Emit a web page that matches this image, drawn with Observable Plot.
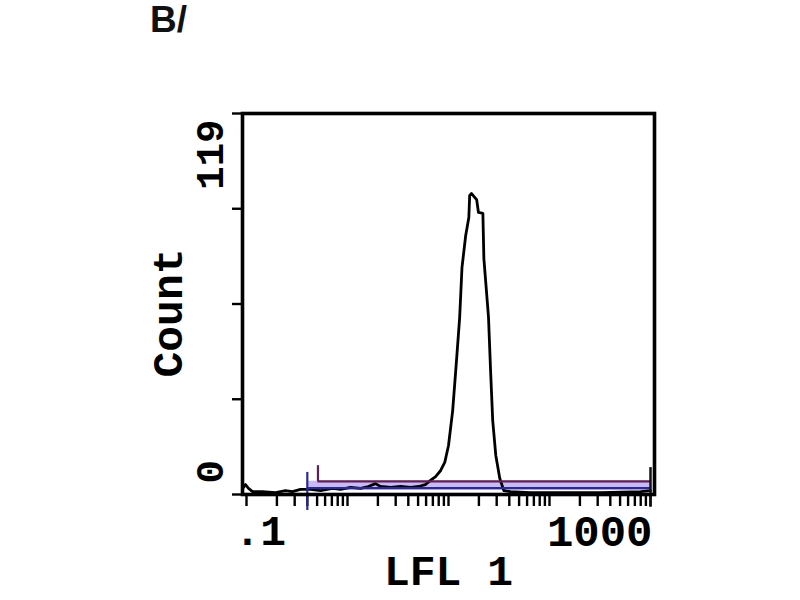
<!DOCTYPE html>
<html>
<head>
<meta charset="utf-8">
<script src="https://cdn.jsdelivr.net/npm/d3@7"></script>
<script src="https://cdn.jsdelivr.net/npm/@observablehq/plot@0.6"></script>
<style>
  html, body { margin: 0; padding: 0; background: #fff; }
  body { width: 800px; height: 600px; overflow: hidden; position: relative; }
  #title { position: absolute; left: 150px; top: 0px; font: bold 37px/40px "Liberation Sans", Arial, sans-serif; color: #111; }
  #chart { position: absolute; left: 0; top: 0; }
  [aria-label^="x-axis"] line, [aria-label^="x-axis"] path,
  [aria-label^="y-axis"] line, [aria-label^="y-axis"] path { stroke-width: 2.4px; }
</style>
</head>
<body>
<div id="chart"></div>
<div id="title">B/</div>
<script>
// Histogram (LFL 1 fluorescence channel vs. event count)
const fluorescence = [0.0934, 0.0977, 0.1047, 0.1147, 0.144, 0.194, 0.243, 0.285, 0.342, 0.43, 0.541, 0.71, 0.855, 1.07, 1.35, 1.61, 1.89, 2.12, 2.67, 3.36, 4.22, 5.08, 5.9,
  6.63, 7.45, 8.37, 9.18, 10.0, 11.0, 12.0, 12.9, 13.6, 14.8, 15.9, 16.2, 16.9, 19.0, 19.8, 21.9, 22.4, 24.9, 26.1, 27.4, 29.4, 32.2, 35.3,
  41.1, 64.9, 129, 320, 798, 1000];
const counts = [2.2, 3.1, 1.9, 0.9, 0.9, 0.6, 1.2, 0.9, 1.6, 1.6, 1.2, 1.9, 1.6, 2.2, 1.9, 2.5, 3.4, 2.5, 2.2, 2.5, 2.2, 2.5, 3.1,
  4.4, 5.6, 7.5, 10, 15.3, 26.2, 41.8, 55.3, 70.9, 80.9, 86.5, 93.4, 94.0, 92.1, 88.1, 87.8, 73.7, 55.3, 38.7, 23.1, 12.2, 5.0, 1.2,
  0.9, 0.6, 0.6, 0.6, 0.9, 1.2];

// Marker (gate) bars
const markerNames = ["M1", "M2"];
const markerStart = [0.51, 0.40];
const markerEnd = [1000, 1000];
const markerLevel = [4.1, 2.0];
const markerTickTop = [9.0, 6.9];
const markerTickBottom = [4.0, -5.0];
const markerColors = ["#5e1f55", "#2a2a92"];

// Axes
const xTicks = [0.1, 0.2, 0.3, 0.4, 0.5, 0.6, 0.7, 0.8, 0.9,
  1, 2, 3, 4, 5, 6, 7, 8, 9,
  10, 20, 30, 40, 50, 60, 70, 80, 90,
  100, 200, 300, 400, 500, 600, 700, 800, 900, 1000];
const yTicks = [0, 29.75, 59.5, 89.25, 119];
const xTickLabelValues = [0.1, 1000];
const xTickLabels = [".1", "1000"];
const yTickLabelValues = [0, 119];
const yTickLabels = ["0", "119"];
const xAxisTitle = "LFL 1";
const yAxisTitle = "Count";

const mono = "'Liberation Mono', 'DejaVu Sans Mono', monospace";
const idx = markerNames.map((_, i) => i);

const chart = Plot.plot({
  width: 800,
  height: 600,
  marginLeft: 242,
  marginRight: 146,
  marginTop: 113,
  marginBottom: 106,
  style: { background: "transparent", color: "black", fontFamily: mono },
  x: { type: "log", domain: [0.1, 1000], insetLeft: 4, insetRight: 4, ticks: xTicks, tickSize: 12, tickFormat: () => "", label: null },
  y: { domain: [0, 119], ticks: yTicks, tickSize: 10, tickFormat: () => "", label: null },
  marks: [
    // lavender halo under the marker bars
    Plot.ruleY(idx.slice(1), { y: i => markerLevel[i] + 0.9, x1: i => markerStart[i], x2: i => markerEnd[i], stroke: "#c9b9f4", strokeWidth: 9 }),
    // histogram
    Plot.line(counts, { x: fluorescence, y: d => d, stroke: "black", strokeWidth: 2.8 }),
    // marker bars
    Plot.ruleY(idx, { y: i => markerLevel[i], x1: i => markerStart[i], x2: i => markerEnd[i], stroke: i => markerColors[i], strokeWidth: 2.2 }),
    Plot.ruleX(idx, { x: i => markerStart[i], y1: i => markerTickBottom[i], y2: i => markerTickTop[i], stroke: i => markerColors[i], strokeWidth: 2.2 }),
    Plot.ruleX([markerEnd[0]], { x: d => d, y1: -4, y2: 8.4, stroke: "#111", strokeWidth: 2.5 }),
    Plot.frame({ stroke: "black", strokeWidth: 3.6 }),
    // x tick labels
    Plot.text([xTickLabelValues[0]], { x: d => d, text: () => xTickLabels[0], frameAnchor: "bottom", textAnchor: "start", lineAnchor: "middle", dx: -12, dy: 37, fontFamily: mono, fontWeight: "bold", fontSize: 43 }),
    Plot.text([xTickLabelValues[1]], { x: d => d, text: () => xTickLabels[1], frameAnchor: "bottom", textAnchor: "end", lineAnchor: "middle", dx: 2, dy: 37, fontFamily: mono, fontWeight: "bold", fontSize: 44 }),
    // y tick labels (rotated)
    Plot.text([yTickLabelValues[0]], { y: d => d, text: () => yTickLabels[0], frameAnchor: "left", rotate: -90, textAnchor: "start", lineAnchor: "middle", dx: -32, dy: -11, fontFamily: mono, fontWeight: "bold", fontSize: 39 }),
    Plot.text([yTickLabelValues[1]], { y: d => d, text: () => yTickLabels[1], frameAnchor: "left", rotate: -90, textAnchor: "end", lineAnchor: "middle", dx: -32, dy: 6, fontFamily: mono, fontWeight: "bold", fontSize: 39 }),
    // axis titles
    Plot.text([xAxisTitle], { text: d => d, frameAnchor: "bottom", textAnchor: "middle", lineAnchor: "middle", dy: 77, fontFamily: mono, fontWeight: "bold", fontSize: 43 }),
    Plot.text([yAxisTitle], { text: d => d, frameAnchor: "left", rotate: -90, textAnchor: "middle", lineAnchor: "middle", dx: -74, dy: 9, fontFamily: mono, fontWeight: "bold", fontSize: 43 })
  ]
});
document.getElementById("chart").appendChild(chart);
</script>
</body>
</html>
